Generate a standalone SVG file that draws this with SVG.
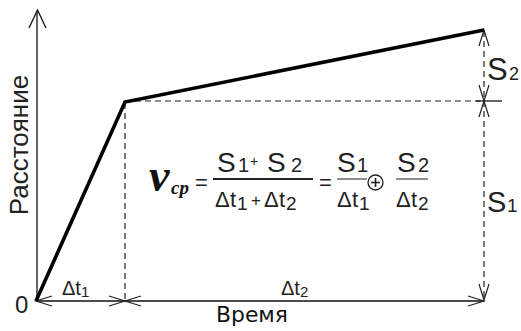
<svg xmlns="http://www.w3.org/2000/svg" width="521" height="331" viewBox="0 0 521 331">
<style>
.ax{stroke:#111;stroke-width:1.3;fill:none}
.dash{stroke:#222;stroke-width:1.2;stroke-dasharray:6 4;fill:none}
.thick{stroke:#000;stroke-width:3.6;fill:none;stroke-linejoin:miter}
.ah{stroke:#222;stroke-width:1.2;fill:none}
.t{font-family:"Liberation Sans",Arial,sans-serif;fill:#222}
.vs{font-family:"Liberation Serif","Times New Roman",serif;font-style:italic;font-weight:bold;fill:#111}
.fl{stroke:#222;stroke-width:2}
.fl2{stroke:#444;stroke-width:1.2}
</style>
<rect width="521" height="331" fill="#fff"/>
<g id="connectors">
<line class="ax" x1="37" y1="301" x2="37" y2="11"/>
<polyline class="ax" points="29,28 37.5,10 46,28"/>
<line class="ax" x1="36" y1="301" x2="484" y2="301"/>
<polyline class="ah" points="52,296 36,301 52,306"/>
<polyline class="ah" points="109,296 125,301 109,306"/>
<polyline class="ah" points="141,296 125,301 141,306"/>
<polyline class="ah" points="468,296 484,301 468,306"/>
<line class="dash" x1="125" y1="103" x2="125" y2="300"/>
<line class="dash" x1="125" y1="101" x2="480" y2="101"/>
<line class="ax" x1="476" y1="101" x2="502" y2="101"/>
<line class="dash" x1="484" y1="31" x2="484" y2="300"/>
<polyline class="ah" points="479,46 484,30 489,46"/>
<polyline class="ah" points="479,85 484,101 489,85"/>
<polyline class="ah" points="479,117 484,101 489,117"/>
<polyline class="ah" points="479,284 484,300 489,284"/>
<polyline class="thick" points="36,301 125,102 484,30"/>
</g>
<g id="axis-labels">
<text class="t" x="15" y="313" font-size="24">0</text>
<text class="t" font-size="26" text-anchor="middle" transform="translate(28,145) rotate(-90)">Расстояние</text>
<text x="216" y="322" font-size="21" textLength="72" lengthAdjust="spacingAndGlyphs" style="font-family:'DejaVu Sans',sans-serif;fill:#111">Время</text>
</g>
<g id="dt1">
<text class="t" x="62" y="295" font-size="20">Δt<tspan font-size="15" dy="2">1</tspan></text>
</g>
<g id="dt2">
<text class="t" x="281" y="295" font-size="20">Δt<tspan font-size="15" dy="2">2</tspan></text>
</g>
<g id="s2">
<text class="t" x="487" y="80" font-size="31">S</text>
<text class="t" x="509" y="80" font-size="18">2</text>
</g>
<g id="s1">
<text class="t" x="487" y="212" font-size="29">S</text>
<text class="t" x="507" y="212" font-size="19">1</text>
</g>
<g id="formula">
<text class="vs" x="149" y="191" font-size="46">v</text>
<text class="vs" x="171" y="194" font-size="19">cp</text>
<text class="t" x="195" y="190" font-size="22">=</text>
<line class="fl" x1="213" y1="179" x2="313" y2="179"/>
<text class="t" x="217" y="172" font-size="28">S</text>
<text class="t" x="238" y="172" font-size="20">1</text>
<text class="t" x="250" y="166" font-size="14">+</text>
<text class="t" x="267" y="172" font-size="28">S</text>
<text class="t" x="291" y="172" font-size="20">2</text>
<text class="t" x="215" y="207" font-size="22">Δ</text>
<text class="t" x="230" y="207" font-size="22">t</text>
<text class="t" x="237" y="210" font-size="19">1</text>
<text class="t" x="251" y="206" font-size="17">+</text>
<text class="t" x="264" y="207" font-size="22">Δ</text>
<text class="t" x="279" y="207" font-size="22">t</text>
<text class="t" x="286" y="210" font-size="19">2</text>
<text class="t" x="319" y="190" font-size="22">=</text>
<line class="fl2" x1="337" y1="179" x2="367" y2="179"/>
<text class="t" x="337" y="172" font-size="28">S</text>
<text class="t" x="357" y="172" font-size="20">1</text>
<text class="t" x="337" y="207" font-size="22">Δ</text>
<text class="t" x="352" y="207" font-size="22">t</text>
<text class="t" x="359" y="210" font-size="19">1</text>
<circle cx="375.5" cy="182.5" r="7.5" fill="none" stroke="#222" stroke-width="1.3"/>
<line x1="371" y1="182.5" x2="380" y2="182.5" stroke="#222" stroke-width="1.6"/>
<line x1="375.5" y1="178" x2="375.5" y2="187" stroke="#222" stroke-width="1.6"/>
<line class="fl2" x1="396" y1="179" x2="428" y2="179"/>
<text class="t" x="397" y="172" font-size="28">S</text>
<text class="t" x="418" y="172" font-size="20">2</text>
<text class="t" x="396" y="207" font-size="22">Δ</text>
<text class="t" x="411" y="207" font-size="22">t</text>
<text class="t" x="418" y="210" font-size="19">2</text>
</g>
</svg>
